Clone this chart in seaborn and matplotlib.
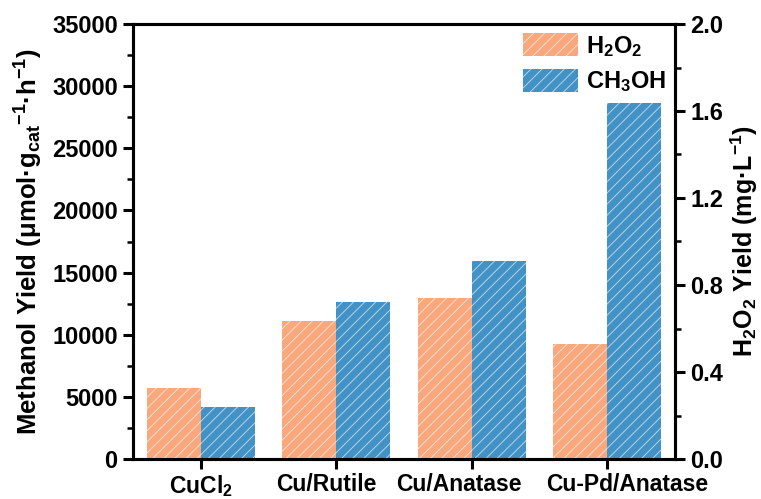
import matplotlib
matplotlib.use("Agg")
import matplotlib.pyplot as plt
import matplotlib.transforms as mtransforms
import seaborn as sns
import pandas as pd
from matplotlib.ticker import MultipleLocator, FormatStrFormatter

# Catalysts and measured yields
catalysts = ["CuCl$_2$", "Cu/Rutile", "Cu/Anatase", "Cu-Pd/Anatase"]
h2o2_yield = [0.327, 0.634, 0.738, 0.531]        # mg·L^-1 (right axis)
methanol_yield = [4200, 12600, 15900, 28650]     # µmol·g_cat^-1·h^-1 (left axis)
series_order = ["H2O2", "CH3OH"]
series_labels = ["H$_2$O$_2$", "CH$_3$OH"]
colors = {"H2O2": "#F9A77C", "CH3OH": "#4292C6"}

sns.set_theme(style="ticks")
plt.rcParams.update({
    "font.family": ["Liberation Sans", "DejaVu Sans"],
    "font.weight": "bold",
    "mathtext.fontset": "custom",
    "mathtext.rm": "Liberation Sans:bold",
    "mathtext.bf": "Liberation Sans:bold",
    "mathtext.it": "Liberation Sans:bold",
    "mathtext.sf": "Liberation Sans:bold",
    "mathtext.default": "bf",
    "hatch.linewidth": 0.7,
    "text.color": "black",
    "axes.labelcolor": "black",
    "xtick.color": "black",
    "ytick.color": "black",
})

df_h2o2 = pd.DataFrame({"catalyst": catalysts, "value": h2o2_yield, "series": "H2O2"})
df_meoh = pd.DataFrame({"catalyst": catalysts, "value": methanol_yield, "series": "CH3OH"})

fig = plt.figure(figsize=(7.61, 4.99), dpi=100)
ax = fig.add_axes([133 / 761, 1 - 459 / 499, 542 / 761, 435 / 499])
ax2 = ax.twinx()

bar_kw = dict(hatch="///", edgecolor="#FFFFFF99", linewidth=0, saturation=1,
              width=0.8, dodge=True, legend=False, errorbar=None)

sns.barplot(data=df_meoh, x="catalyst", y="value", hue="series",
            hue_order=series_order, order=catalysts, palette=colors, ax=ax, **bar_kw)
sns.barplot(data=df_h2o2, x="catalyst", y="value", hue="series",
            hue_order=series_order, order=catalysts, palette=colors, ax=ax2, **bar_kw)

ax.set_xlim(-0.5, 3.5)
ax.set_ylim(0, 35000)
ax2.set_ylim(0, 2.0)
ax.yaxis.set_major_locator(MultipleLocator(5000))
ax.yaxis.set_minor_locator(MultipleLocator(2500))
ax2.yaxis.set_major_locator(MultipleLocator(0.4))
ax2.yaxis.set_minor_locator(MultipleLocator(0.2))
ax2.yaxis.set_major_formatter(FormatStrFormatter("%.1f"))

ax.set_xlabel("")
ax.set_ylabel("Methanol Yield (μmol·g$_{cat}$$^{-1}$·h$^{-1}$)",
              fontsize=18.5, fontweight="bold", labelpad=5)
ax2.set_ylabel("H$_2$O$_2$ Yield (mg·L$^{-1}$)", fontsize=18,
               fontweight="bold", labelpad=4)

for a in (ax, ax2):
    for s in a.spines.values():
        s.set_linewidth(2.2)
        s.set_color("black")
    a.tick_params(axis="both", which="major", length=7, width=2.2,
                  labelsize=17, color="black", direction="out", pad=4)
    a.tick_params(axis="y", which="minor", length=4.5, width=1.8, color="black")
    for lbl in a.get_yticklabels():
        lbl.set_fontweight("bold")
ax.tick_params(axis="x", labelsize=16.5, pad=3)

# Horizontal nudges of the category labels (pixels)
label_shift = [0, -10, -13, 20]
for lbl, dx in zip(ax.get_xticklabels(), label_shift):
    lbl.set_fontweight("bold")
    lbl.set_transform(lbl.get_transform() +
                      mtransforms.ScaledTranslation(dx / 100, 0, fig.dpi_scale_trans))

handles = [ax2.patches[0], ax.patches[0]]
ax2.legend(handles=handles, labels=series_labels, loc="upper left",
           bbox_to_anchor=((523 - 133) / 542, (459 - 33) / 435),
           borderaxespad=0, borderpad=0, frameon=False,
           handlelength=2.35, handleheight=1.15, handletextpad=0.3,
           labelspacing=0.42, prop={"weight": "bold", "size": 17})

fig.savefig("out.png", dpi=100)
